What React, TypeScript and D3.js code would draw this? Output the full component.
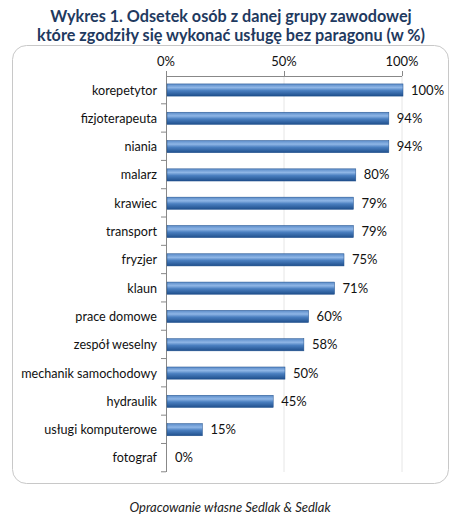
import * as d3 from 'd3'

const categories = [
  'korepetytor', 'fizjoterapeuta', 'niania', 'malarz', 'krawiec', 'transport', 'fryzjer',
  'klaun', 'prace domowe', 'zespół weselny', 'mechanik samochodowy', 'hydraulik',
  'usługi komputerowe', 'fotograf',
]
const values = [100, 94, 94, 80, 79, 79, 75, 71, 60, 58, 50, 45, 15, 0]
const ticks = [0, 50, 100]

const W = 462
const H = 518
const font = 'Lato, "Open Sans", "DejaVu Sans", sans-serif'

export default function App() {
  const x = d3.scaleLinear().domain([0, 100]).range([166, 402])
  const y = d3.scaleBand().domain(categories).range([76, 472]).paddingInner(0.57).paddingOuter(0.28)
  const bh = y.bandwidth()
  const step = y.step()

  return (
    <svg width={W} height={H} style={{ position: 'absolute', left: 0, top: 0, background: '#fff' }} fontFamily={font}>
      <defs>
        <linearGradient id="bar" x1="0" y1="0" x2="0" y2="1">
          <stop offset="0" stopColor="#5a8bc8" />
          <stop offset="0.3" stopColor="#8fb6e6" />
          <stop offset="0.55" stopColor="#4a7fc0" />
          <stop offset="1" stopColor="#1f4f8c" />
        </linearGradient>
      </defs>
      <text x={231} y={22} textAnchor="middle" fontSize={16.2} fontWeight="bold" fill="#1f3a60">
        Wykres 1. Odsetek osób z danej grupy zawodowej
      </text>
      <text x={231} y={41} textAnchor="middle" fontSize={16.2} fontWeight="bold" fill="#1f3a60">
        które zgodziły się wykonać usługę bez paragonu (w %)
      </text>
      <rect x={12.5} y={45.5} width={436} height={438} rx={14} fill="#fff" stroke="#c8c8c8" />
      {ticks.map(t => (
        <g key={t}>
          {t > 0 && <line x1={x(t)} x2={x(t)} y1={76} y2={472} stroke="#e6e6e6" />}
          <line x1={x(t) + 0.5} x2={x(t) + 0.5} y1={71} y2={76} stroke="#888" />
          <text x={x(t)} y={66} textAnchor="middle" fontSize={13} fill="#111">{t}%</text>
        </g>
      ))}
      <line x1={166} x2={402} y1={76.5} y2={76.5} stroke="#888" />
      <line x1={166.5} x2={166.5} y1={76} y2={472} stroke="#888" />
      {categories.map((c, i) => (
        <line key={'t' + i} x1={161} x2={166} y1={76 + step * (i + 1) - 0.5} y2={76 + step * (i + 1) - 0.5} stroke="#888" />
      ))}
      {categories.map((c, i) => {
        const yy = (y(c) ?? 0)
        return (
          <g key={c}>
            {values[i] > 0 && (
              <rect x={x(0) + 1} y={yy} width={x(values[i]) - x(0)} height={bh} fill="url(#bar)" stroke="#1f4f8c" strokeWidth={0.5} />
            )}
            <text x={157} y={yy + bh / 2 + 4.5} textAnchor="end" fontSize={12.6} fill="#111">{c}</text>
            <text x={x(values[i]) + 9} y={yy + bh / 2 + 4.5} fontSize={13} fill="#111">{values[i]}%</text>
          </g>
        )
      })}
      <text x={230} y={512} textAnchor="middle" fontSize={13} fontStyle="italic" fill="#222">
        Opracowanie własne Sedlak &amp; Sedlak
      </text>
    </svg>
  )
}
